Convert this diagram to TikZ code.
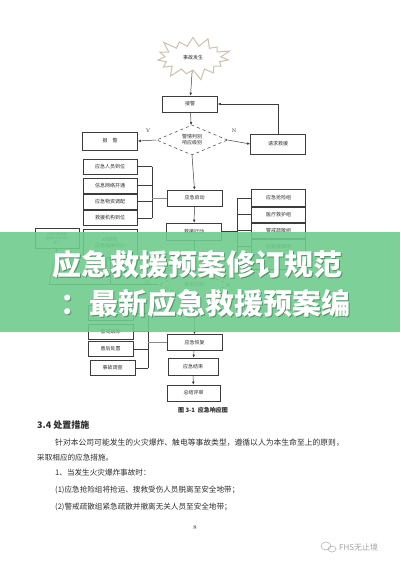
\documentclass[tikz,border=0pt]{standalone}
\usepackage{fontspec}
\newfontfamily\cjk{Noto Sans CJK SC}
\usepackage{tikz}
\usetikzlibrary{arrows.meta,positioning,shapes.geometric,shapes.symbols}
\definecolor{docInk}{HTML}{2E2E2E}
\definecolor{docLine}{HTML}{3C3C3C}
\definecolor{docSoft}{HTML}{8C8C8C}
\definecolor{burstEdge}{HTML}{CDC2B0}
\definecolor{bandGreen}{HTML}{6FCB8D}
\tikzset{
    >=Latex,
    every picture/.style={font=\cjk},
    box/.style={draw=docLine, line width=0.6pt, align=center, minimum width=55pt, minimum height=16pt, inner sep=1pt, text=docInk, font=\cjk\fontsize{5}{6}\selectfont},
    subbox/.style={box, minimum width=54pt, minimum height=15pt},
    lowbox/.style={box, minimum width=45pt, minimum height=15pt},
    burst/.style={starburst, starburst points=15, starburst point height=12pt, minimum width=80pt, minimum height=48pt, draw=burstEdge, line width=1pt, fill=white, inner sep=0pt, text=docInk, font=\cjk\fontsize{5}{6}\selectfont},
    judge/.style={diamond, aspect=2.3, draw=docLine, dashed, line width=0.5pt, inner sep=0pt, minimum width=71pt, minimum height=30pt, align=center, text=docInk, font=\cjk\fontsize{5}{6}\selectfont},
    flag/.style={font=\rmfamily\fontsize{5}{6}\selectfont, text=docInk, inner sep=0pt},
    link/.style={line width=0.5pt, draw=docLine},
    softlink/.style={line width=0.5pt, draw=docSoft},
    arrow/.style={-{Latex[length=3pt,width=2.6pt]}, line width=0.5pt, draw=docLine},
    bigtxt/.style={font=\cjk\bfseries\fontsize{29}{30}\selectfont, text=white, inner sep=0pt},
    body/.style={anchor=west, inner sep=0pt, text=docInk, font=\cjk\fontsize{7.6}{9}\selectfont}
}
\begin{document}
\begin{tikzpicture}[x=1pt, y=-1pt]
\useasboundingbox[fill=white] (0,0) rectangle (400,565);
% top of the chart
\node[burst] (accident) at (193,58) {事故发生};
\node[box] (receive) at (190,104) {接警};
\node[judge] (judge) at (192,140) {警情判别\\响应级别};
\node[box, minimum height=18pt] (report) at (110,141) {报\quad 警};
\node[box, minimum height=20pt] (rescue) at (278,144) {请求救援};
\draw[arrow] (accident) -- (receive);
\draw[arrow] (receive) -- (judge);
\draw[arrow] (judge.west) -- (report.east);
\draw[arrow] (judge.east) -- (rescue.west);
\draw[arrow] (rescue.north) |- (receive.east);
\node[flag] (ylab) at (148,131) {Y};
\node[flag] (nlab) at (234,131) {N};
% preparation group
\node[subbox] (prep1) at (110,166.5) {应急人员到位};
\node[subbox] (prep2) at (110,185.5) {信息网络开通};
\node[subbox] (prep3) at (110,201.5) {应急物资调配};
\node[subbox] (prep4) at (110,218) {救援机构到位};
\node[subbox, minimum height=28pt] (prep5) at (110,243) {XX消防\\应急指挥中心};
\node[box] (start) at (194.5,198) {应急启动};
\coordinate (lbar) at (152,198);
\foreach \n in {prep1,prep2,prep3,prep4}
    \draw[link] (\n.east) -- (\n.east -| lbar);
\draw[link] (prep1.east -| lbar) -- (prep4.east -| lbar);
\draw[softlink] (lbar) -- (start.west);
\draw[arrow] (judge.south) -- (start.north);
% action and teams
\node[box, minimum height=17pt] (action) at (194,231.5) {救援行动};
\draw[arrow] (start) -- (action);
\node[subbox, minimum height=17pt] (team1) at (278.5,198) {应急抢险组};
\node[subbox] (team2) at (278.5,214.5) {医疗救护组};
\node[subbox] (team3) at (278.5,230.5) {警戒疏散组};
\node[subbox] (team4) at (278.5,246.5) {后勤保障组};
\node[subbox] (team5) at (278.5,262) {};
\coordinate (rbar) at (237,231.5);
\foreach \n in {team1,team2,team3,team4,team5}
    \draw[link] (\n.west -| rbar) -- (\n.west);
\draw[link] (team1.west -| rbar) -- (team5.west -| rbar);
\draw[link] (action.east) -- (rbar);
% outside help
\node[box, minimum width=44pt, minimum height=20pt, font=\cjk\fontsize{3.2}{4}\selectfont] (outside) at (57,238) {XX区应急救援\\指挥中心及有关\\部门};
\node[judge] (control) at (194,284.5) {事态控制};
\draw[arrow] (action) -- (control);
\coordinate (nturn) at (49,284.5);
\draw[link] (control.west) -- (nturn);
\draw[arrow] (nturn) -- (outside.south);
\draw[arrow] (prep5.south |- nturn) -- (prep5.south);
\node[flag] (nlab2) at (147,282.3) {N};
% recovery group
\node[lowbox] (rec1) at (110.5,313) {};
\node[lowbox] (rec2) at (110.5,331.5) {警戒解除};
\node[lowbox] (rec3) at (110.5,349) {善后处置};
\node[lowbox] (rec4) at (112.5,368) {事故调查};
\node[box] (recover) at (194.5,342.5) {应急恢复};
\coordinate (lowbar) at (148,342.5);
\foreach \n in {rec1,rec2,rec3,rec4}
    \draw[link] (\n.east) -- (\n.east -| lowbar);
\draw[link] (rec1.east -| lowbar) -- (rec4.east -| lowbar);
\draw[softlink] (lowbar) -- (recover.west);
\draw[arrow] (control.south) -- (recover.north);
\node[box, minimum width=50pt, minimum height=17pt] (finish) at (193,366.5) {应急结束};
\node[box, minimum width=53pt] (review) at (193.5,393) {总结评审};
\draw[arrow] (recover) -- (finish);
\draw[arrow] (finish) -- (review);
\node[font=\cjk\bfseries\fontsize{6}{7}\selectfont, text=docInk] (caption) at (203,410) {图 3-1\ \ 应急响应图};
% the green band
\fill[bandGreen, opacity=0.9] (0,232) rectangle (400,332);
\node[bigtxt, text=black, opacity=0.3] (title1s) at (198,265.5) {应急救援预案修订规范};
\node[bigtxt] (title1) at (197,264.5) {应急救援预案修订规范};
\node[bigtxt, text=black, opacity=0.3] (title2s) at (206,304) {：最新应急救援预案编};
\node[bigtxt] (title2) at (205,303) {：最新应急救援预案编};
% text under the chart
\node[body, font=\cjk\bfseries\fontsize{9}{10}\selectfont] (head) at (37,425) {3.4 处置措施};
\node[body, font=\cjk\fontsize{7.8}{9}\selectfont] (para1) at (55,443) {针对本公司可能发生的火灾爆炸、触电等事故类型，遵循以人为本生命至上的原则，};
\node[body] (para2) at (37,458) {采取相应的应急措施。};
\node[body] (para3) at (55,473) {1、当发生火灾爆炸事故时：};
\node[body] (para4) at (55,490) {(1)应急抢险组将抢运、搜救受伤人员脱离至安全地带；};
\node[body] (para5) at (55,507) {(2)警戒疏散组紧急疏散并撤离无关人员至安全地带；};
\node[font=\rmfamily\fontsize{6}{7}\selectfont, text=docInk] (page) at (195,528) {8};
% mark in the corner
\draw[docSoft!70, line width=0.5pt] (326,546) ellipse (5pt and 4pt);
\draw[docSoft!70, line width=0.5pt] (332,549) ellipse (4pt and 3pt);
\node[body, text=docSoft!80, font=\cjk\fontsize{8}{9}\selectfont] (mark) at (339,547) {FHS无止境};
\end{tikzpicture}
\end{document}
